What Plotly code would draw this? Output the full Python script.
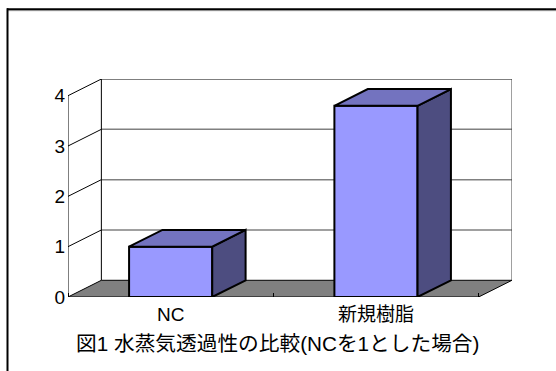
import plotly.graph_objects as go

# ---- data ----
categories = ["NC", "新規樹脂"]
values = [1.0, 3.8]
y_ticks = [0, 1, 2, 3, 4]
title_text = "図1 水蒸気透過性の比較(NCを1とした場合)"

# ---- 3D look parameters (in axis units) ----
DX = 0.1625   # depth offset along x
DY = 0.332    # depth offset along y
BAR_W = 0.405
YMAX = max(y_ticks)
N = len(categories)
centers = [i + 0.5 for i in range(N)]

FRONT = "#9999FF"
TOP = "#7373BF"
SIDE = "#4D4D80"
FLOOR = "#808080"

W, H = 556, 371
ML, MR, MT, MB = 68, 44, 79, 74
PW, PH = W - ML - MR, H - MT - MB


def px_x(p):
    return (p - ML) / PW


def px_y(p):
    return (H - MB - p) / PH


FONT = "Liberation Sans, Arial, Noto Sans CJK JP, sans-serif"

fig = go.Figure()

# front faces of bars
fig.add_trace(go.Bar(
    x=centers, y=values, width=BAR_W,
    marker=dict(color=FRONT, line=dict(color="black", width=2)),
    hoverinfo="skip", showlegend=False,
))

# top and side faces
for c, v in zip(centers, values):
    x0, x1 = c - BAR_W / 2, c + BAR_W / 2
    fig.add_trace(go.Scatter(
        x=[x1, x1 + DX, x1 + DX, x1, x1],
        y=[0, DY, v + DY, v, 0],
        mode="lines", fill="toself", fillcolor=SIDE,
        line=dict(color="black", width=2), hoverinfo="skip", showlegend=False,
    ))
    fig.add_trace(go.Scatter(
        x=[x0, x1, x1 + DX, x0 + DX, x0],
        y=[v, v, v + DY, v + DY, v],
        mode="lines", fill="toself", fillcolor=TOP,
        line=dict(color="black", width=2), hoverinfo="skip", showlegend=False,
    ))

shapes = []
# floor
shapes.append(dict(
    type="path", xref="x", yref="y", layer="below",
    path=f"M 0 0 L {N} 0 L {N + DX} {DY} L {DX} {DY} Z",
    fillcolor=FLOOR, line=dict(color="black", width=1),
))
# back wall gridlines
for k in y_ticks[1:-1]:
    shapes.append(dict(type="line", xref="x", yref="y", layer="below",
                       x0=DX, x1=N + DX, y0=k + DY, y1=k + DY,
                       line=dict(color="#808080", width=1.5)))
# back wall outline
shapes.append(dict(type="line", xref="x", yref="y", layer="below",
                   x0=DX, x1=DX, y0=DY, y1=YMAX + DY, line=dict(color="black", width=1)))
shapes.append(dict(type="line", xref="x", yref="y", layer="below",
                   x0=DX, x1=N + DX, y0=YMAX + DY, y1=YMAX + DY, line=dict(color="black", width=1)))
shapes.append(dict(type="line", xref="x", yref="y", layer="below",
                   x0=N + DX, x1=N + DX, y0=DY, y1=YMAX + DY, line=dict(color="#404040", width=1)))
# side wall diagonals
for k in y_ticks[1:]:
    shapes.append(dict(type="line", xref="x", yref="y", layer="below",
                       x0=0, x1=DX, y0=k, y1=k + DY, line=dict(color="black", width=1)))
# front value axis
shapes.append(dict(type="line", xref="x", yref="y", layer="below",
                   x0=0, x1=0, y0=0, y1=YMAX, line=dict(color="black", width=1)))

# outer frame (top and left)
shapes.append(dict(type="line", xref="paper", yref="paper",
                   x0=px_x(7), x1=px_x(W), y0=px_y(10.7), y1=px_y(10.7),
                   line=dict(color="#B0B0B0", width=1)))
shapes.append(dict(type="line", xref="paper", yref="paper",
                   x0=px_x(7), x1=px_x(W), y0=px_y(9.3), y1=px_y(9.3),
                   line=dict(color="black", width=2)))
shapes.append(dict(type="line", xref="paper", yref="paper",
                   x0=px_x(7.5), x1=px_x(7.5), y0=px_y(8.3), y1=px_y(H),
                   line=dict(color="black", width=2)))

fig.update_layout(
    width=W, height=H,
    margin=dict(l=ML, r=MR, t=MT, b=MB, pad=0),
    paper_bgcolor="white", plot_bgcolor="rgba(0,0,0,0)",
    showlegend=False,
    shapes=shapes,
    font=dict(family=FONT, size=19, color="black"),
    xaxis=dict(
        range=[0, N + DX], showgrid=False, zeroline=False, showline=False,
        tickmode="array", tickvals=centers, ticktext=categories, ticks="",
        ticklabelstandoff=4, fixedrange=True,
        minor=dict(tickmode="array", tickvals=list(range(N + 1)), ticks="inside",
                   ticklen=4, tickcolor="black", tickwidth=1, showgrid=False),
    ),
    yaxis=dict(
        range=[0, YMAX + DY], showgrid=False, zeroline=False, showline=False,
        tickmode="array", tickvals=y_ticks, ticktext=[str(t) for t in y_ticks],
        ticks="", ticklabelstandoff=2, fixedrange=True,
        tickfont=dict(size=19),
    ),
    annotations=[dict(
        text=title_text, xref="paper", yref="paper",
        x=px_x(277), y=px_y(343), xanchor="center", yanchor="middle",
        showarrow=False, font=dict(family=FONT, size=20.7, color="black"),
    )],
)

fig.write_html("out.html")
